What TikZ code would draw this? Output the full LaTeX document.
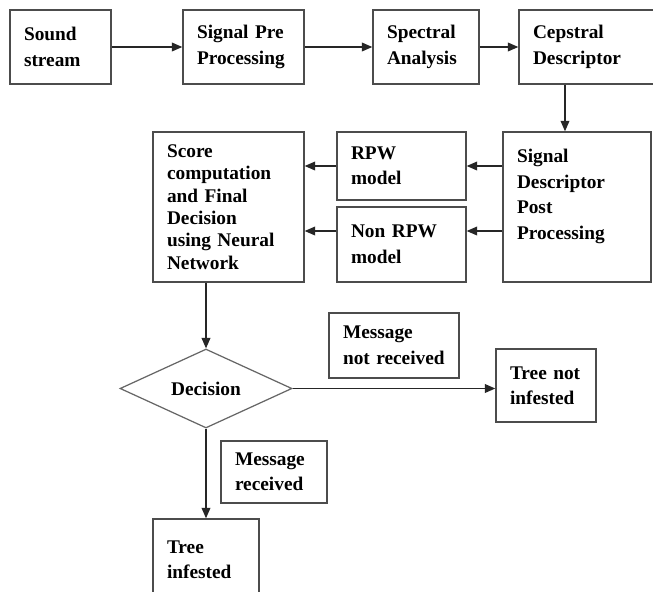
\documentclass[tikz,border=0pt]{standalone}
\usepackage{fontspec}
\setmainfont{Liberation Serif}
\usepackage{tikz}
\usetikzlibrary{shapes.geometric,arrows.meta,positioning,calc}

\newcommand{\boxfont}{\fontsize{11}{14.5}\selectfont\bfseries\spaceskip=0.17em\relax}

\tikzset{
    block/.style={draw=black!70, line width=0.8pt, align=left, inner xsep=0.28cm, inner ysep=0pt,
        font=\boxfont},
    decision/.style={diamond, draw=black!60, line width=0.7pt, inner sep=0pt, aspect=2.18,
        minimum width=3.44cm, minimum height=1.58cm, font=\boxfont},
    flow/.style={draw=black!85, line width=0.8pt, -{Triangle[length=6pt,width=5pt]}}
}

\begin{document}
\begin{tikzpicture}[x=0.02cm, y=-0.02cm]
    \useasboundingbox (0,0) rectangle (653,592);
    \fill[white] (0,0) rectangle (653,592);
    \clip (0,0) rectangle (653,592);

    % Front end
    \node[block, text width=1.46cm, minimum height=1.48cm] (sound) at (60.5,47) {Sound\\stream};
    \node[block, text width=1.86cm, minimum height=1.48cm] (prep) at (243.5,47) {Signal Pre\\Processing};
    \node[block, text width=1.56cm, minimum height=1.48cm] (spec) at (426,47) {Spectral\\Analysis};
    \node[block, text width=2.36cm, minimum height=1.48cm] (ceps) at (592,47) {Cepstral\\Descriptor};

    % Models and scoring
    \node[block, text width=2.40cm, minimum height=3.0cm] (post) at (577,207)
        {Signal\\Descriptor\\Post\\Processing\\\mbox{}};
    \node[block, text width=2.02cm, minimum height=1.36cm] (rpw) at (401.5,166) {RPW\\model};
    \node[block, text width=2.02cm, minimum height=1.5cm] (nonrpw) at (401.5,244.5) {Non RPW\\model};
    \node[block, text width=2.46cm, minimum height=3.0cm, font=\boxfont\linespread{0.88}\selectfont]
        (score) at (228.5,207) {Score\\computation\\and Final\\Decision\\using Neural\\Network};

    % Decision and outcomes
    \node[decision] (dec) at (206,388.5) {Decision};
    \node[block, text width=2.04cm, minimum height=1.3cm] (msgno) at (394,345.5) {Message\\not received};
    \node[block, text width=1.44cm, minimum height=1.46cm] (treeno) at (546,385.5) {Tree not\\infested};
    \node[block, text width=1.56cm, minimum height=1.24cm] (msgyes) at (274,472) {Message\\received};
    \node[block, text width=1.56cm, minimum height=1.62cm] (treeyes) at (206,559.5) {Tree\\infested};

    % Connectors
    \draw[flow] (sound) -- (prep);
    \draw[flow] (prep) -- (spec);
    \draw[flow] (spec) -- (ceps);
    \draw[flow] ([xshift=-0.24cm]post.north |- ceps.south) -- ([xshift=-0.24cm]post.north);
    \draw[flow] (post.west |- rpw.east) -- (rpw.east);
    \draw[flow] ([yshift=0.27cm]post.west |- nonrpw.east) -- ([yshift=0.27cm]nonrpw.east);
    \draw[flow] (rpw.west) -- (rpw.west -| score.east);
    \draw[flow] ([yshift=0.27cm]nonrpw.west) -- ([yshift=0.27cm]nonrpw.west -| score.east);
    \draw[flow] (score.south -| dec.north) -- (dec.north);
    \draw[flow] (dec.east) -- (dec.east -| treeno.west);
    \draw[flow] (dec.south) -- (treeyes.north);
\end{tikzpicture}
\end{document}
